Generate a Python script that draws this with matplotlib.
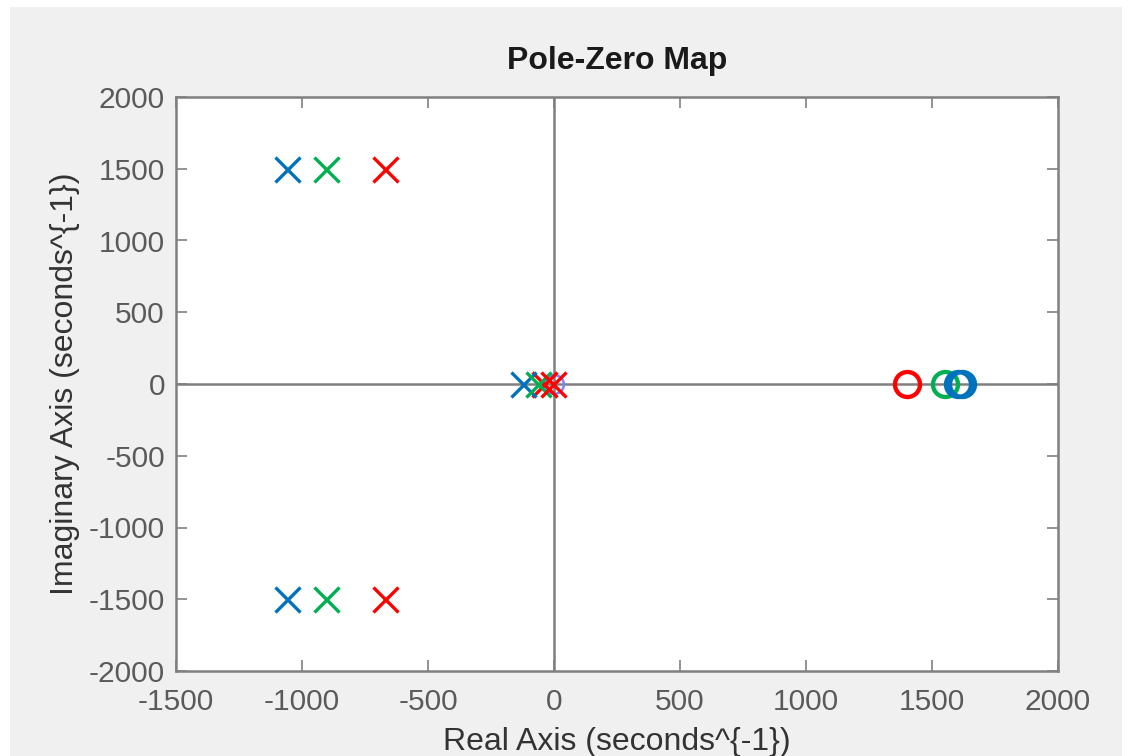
import matplotlib.pyplot as plt
from matplotlib.patches import Rectangle

plt.rcParams['font.family'] = ['Liberation Sans', 'DejaVu Sans']
plt.rcParams['axes.unicode_minus'] = False

# poles (x) and zeros (o) for the three systems
blue_poles_re = [-1060, -1060, -125]
blue_poles_im = [1500, -1500, 0]
green_poles_re = [-905, -905, -65]
green_poles_im = [1500, -1500, 0]
red_poles_re = [-670, -670, -5]
red_poles_im = [1500, -1500, 0]
red_hidden_re = [-40]
red_hidden_im = [0]

blue_zeros_re = [1605, 1620]
blue_zeros_im = [0, 0]
green_zeros_re = [1550]
green_zeros_im = [0]
red_zeros_re = [1400]
red_zeros_im = [0]
faint_zeros_re = [0]
faint_zeros_im = [0]

xticks = [-1500, -1000, -500, 0, 500, 1000, 1500, 2000]
yticks = [-2000, -1500, -1000, -500, 0, 500, 1000, 1500, 2000]

fig = plt.figure(figsize=(11.3, 7.56), dpi=100, facecolor='white')
fig.patches.append(Rectangle((10 / 1130, 0), 1112 / 1130, 749 / 756,
                             transform=fig.transFigure, facecolor='#f0f0f0',
                             edgecolor='none', zorder=-10))
ax = fig.add_axes([176 / 1130, 1 - 671 / 756, 882 / 1130, 574 / 756])
ax.set_facecolor('white')

ax.axhline(0, color='#7f7f7f', lw=1.8, zorder=1)
ax.axvline(0, color='#7f7f7f', lw=1.8, zorder=1)

ms = 18
mew = 2.4
ax.plot(faint_zeros_re, faint_zeros_im, 'o', ms=ms * 0.75, mfc='none', mec='#8080ff',
        mew=1.8, zorder=2)
ax.plot(red_hidden_re, red_hidden_im, 'x', color='#ff0000', ms=ms, mew=mew, zorder=2.5)
ax.plot(blue_poles_re, blue_poles_im, 'x', color='#0072bd', ms=ms, mew=mew, zorder=3)
ax.plot(green_poles_re, green_poles_im, 'x', color='#00b050', ms=ms, mew=mew, zorder=3)
ax.plot(red_poles_re, red_poles_im, 'x', color='#ff0000', ms=ms, mew=mew, zorder=4)
ax.plot(red_zeros_re, red_zeros_im, 'o', ms=ms, mfc='none', mec='#ff0000', mew=mew * 1.3, zorder=3)
ax.plot(green_zeros_re, green_zeros_im, 'o', ms=ms, mfc='none', mec='#00b050', mew=mew * 1.3, zorder=3)
ax.plot(blue_zeros_re, blue_zeros_im, 'o', ms=ms, mfc='none', mec='#0072bd', mew=mew * 1.3, zorder=4)

ax.set_xlim(-1500, 2000)
ax.set_ylim(-2000, 2000)
ax.set_xticks(xticks)
ax.set_yticks(yticks)
ax.tick_params(direction='in', length=8, width=1.2, color='#808080',
               labelsize=21.5, labelcolor='#5a5a5a', top=True, right=True)
ax.tick_params(axis='x', pad=12)
ax.tick_params(axis='y', pad=8)
for s in ax.spines.values():
    s.set_color('#808080')
    s.set_linewidth(1.8)

ax.set_title('Pole-Zero Map', fontsize=23, fontweight='bold', color='#1a1a1a', pad=20)
ax.set_xlabel('Real Axis (seconds^{-1})', fontsize=23, color='#333333', labelpad=8)
ax.set_ylabel('Imaginary Axis (seconds^{-1})', fontsize=23, color='#333333', labelpad=6)

fig.savefig('out.png', dpi=100, facecolor=fig.get_facecolor())
